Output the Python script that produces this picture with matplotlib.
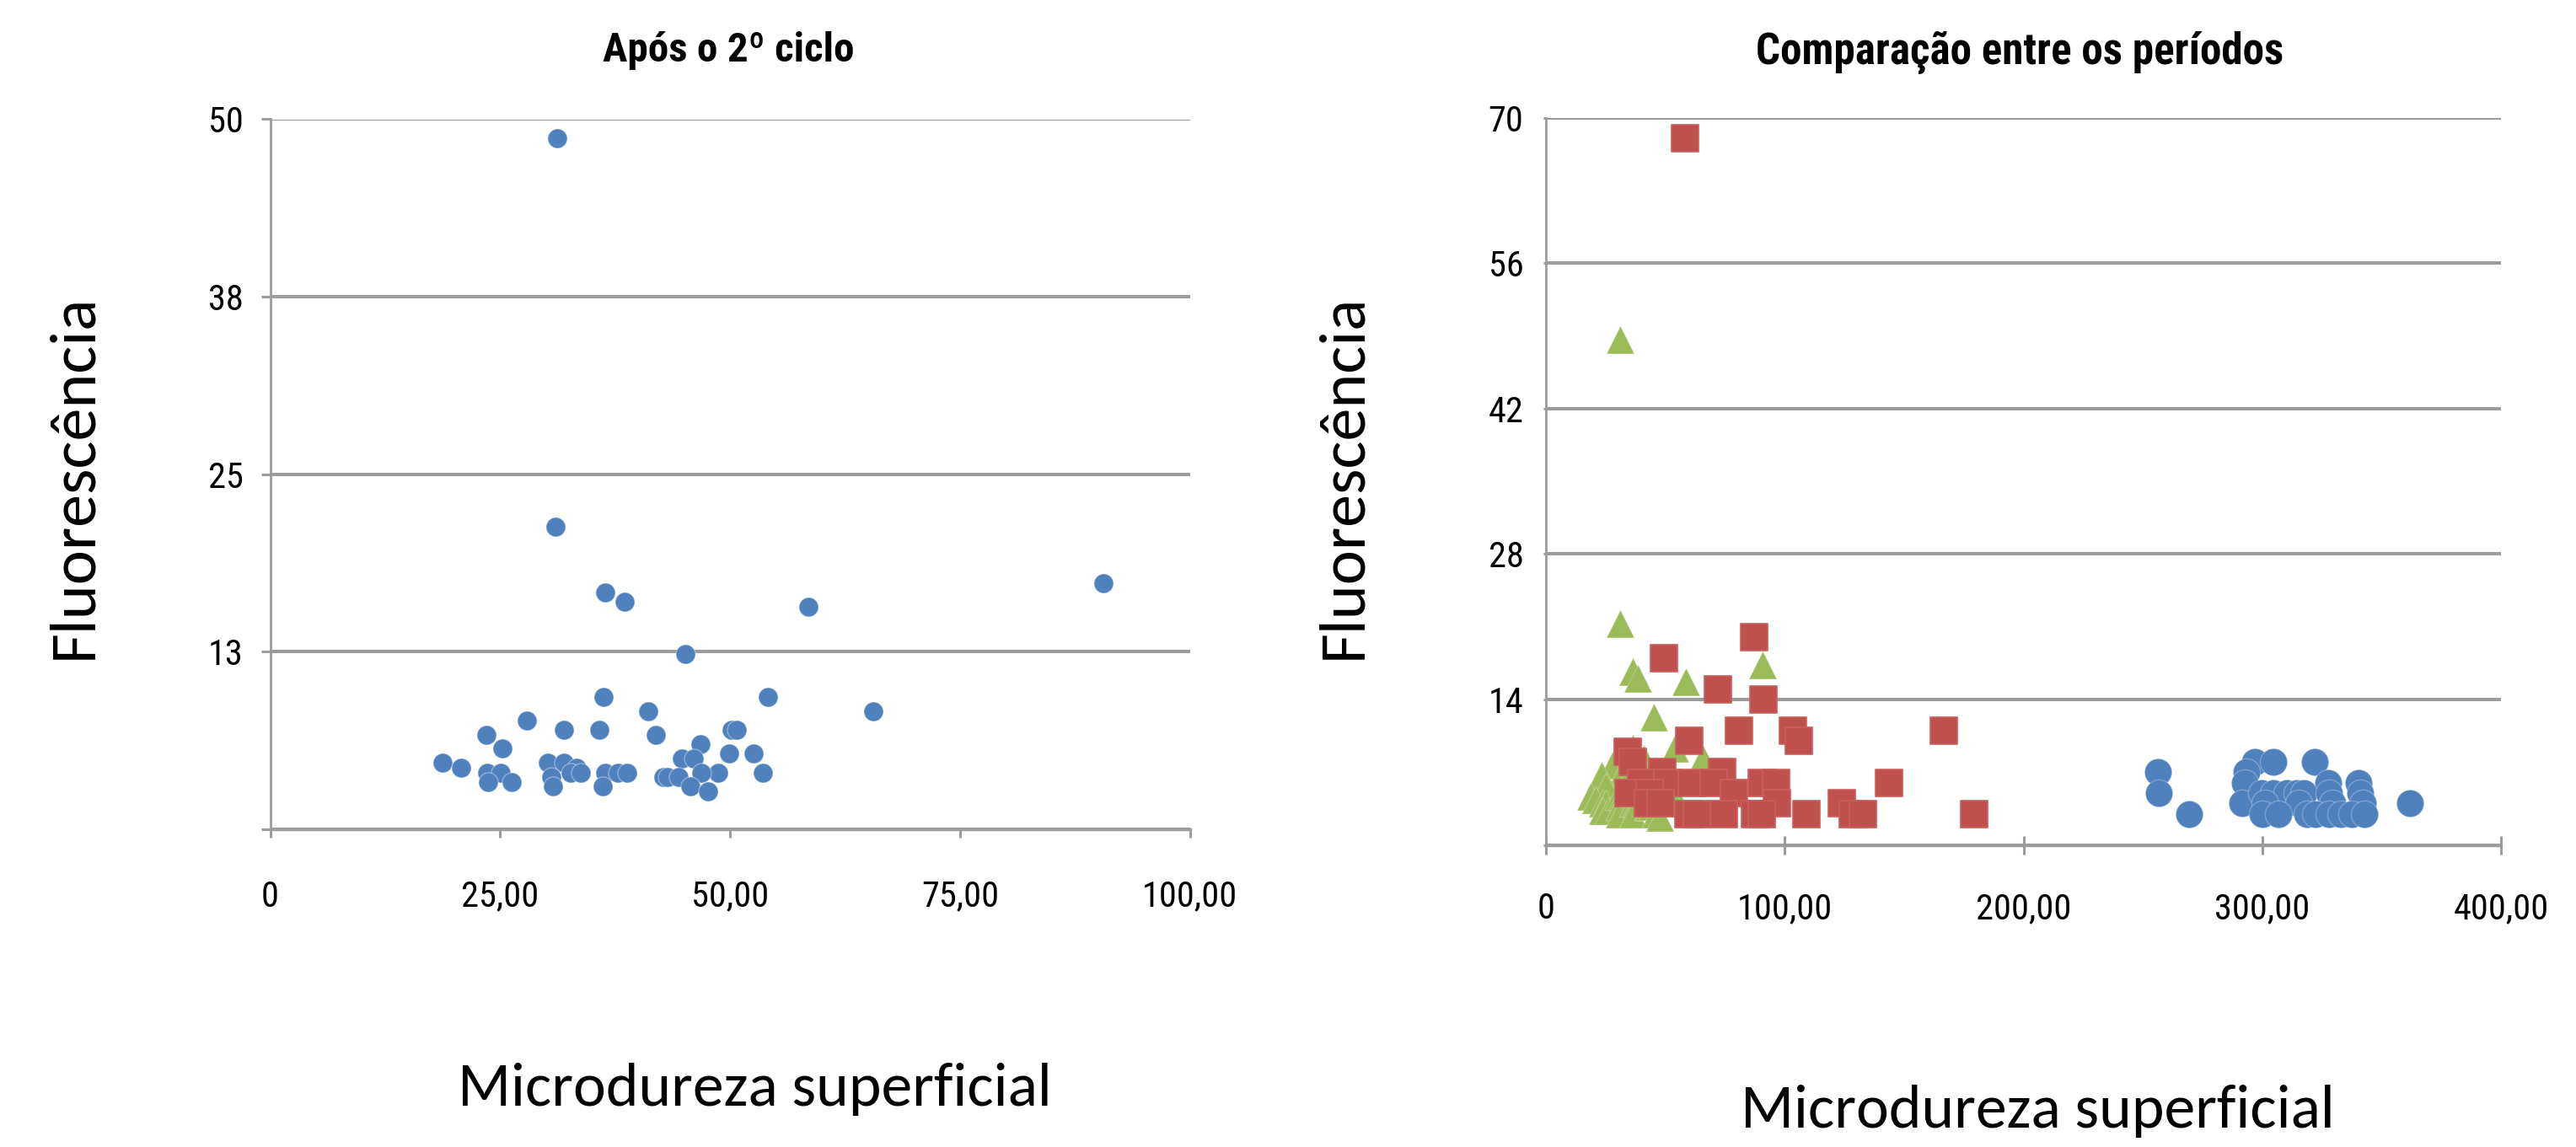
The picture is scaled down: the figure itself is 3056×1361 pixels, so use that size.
import matplotlib
matplotlib.use("Agg")
import matplotlib.pyplot as plt
from matplotlib import font_manager as fm

# ---------------- data ----------------
# After the 2nd cycle (left chart; also the green triangles of the right chart)
after2_x = [31.2, 31.05, 90.6,
            36.45, 38.53, 36.24, 41.07, 27.9, 31.96, 35.78, 23.47, 41.95, 25.21,
            18.71, 20.72, 23.62, 25.09, 23.68, 26.22, 30.19, 31.93, 33.31, 32.64,
            33.77, 30.56, 30.71, 36.45, 37.77, 38.81, 36.18,
            45.1, 58.54, 54.14, 65.6, 50.17, 50.72, 46.81, 44.74, 46.08, 49.87,
            52.58, 53.57, 48.68, 46.85, 42.72, 43.18, 44.43, 45.71, 47.61]
after2_y = [48.67, 21.33, 17.33,
            16.67, 16.0, 9.33, 8.33, 7.67, 7.0, 7.0, 6.67, 6.67, 5.67,
            4.67, 4.33, 4.0, 4.0, 3.33, 3.33, 4.67, 4.67, 4.33, 4.0,
            4.0, 3.67, 3.0, 4.0, 4.0, 4.0, 3.0,
            12.33, 15.67, 9.33, 8.33, 7.0, 7.0, 6.0, 5.0, 5.0, 5.33,
            5.33, 4.0, 4.0, 4.0, 3.67, 3.67, 3.67, 3.0, 2.67]

# Intermediate period (red squares)
mid_x = [58.2, 87.1, 49.5, 71.9, 91.2, 80.7, 60.0, 103.5, 105.9, 34.1, 36.2,
         48.6, 73.9, 39.8, 51.0, 61.0, 70.4, 90.4, 96.2, 34.5, 43.3, 78.6,
         96.8, 42.7, 48.0, 59.8, 63.3, 74.5, 87.4, 90.4, 109.2, 123.9, 128.5,
         132.7, 143.6, 166.6, 179.3]
mid_y = [68, 20, 18, 15, 14, 11, 10, 11, 10, 9, 8,
         7, 7, 6, 6, 6, 6, 6, 6, 5, 5, 5,
         4, 4, 4, 3, 3, 3, 3, 3, 3, 4, 3,
         3, 6, 11, 3]

# Initial period (blue circles)
init_x = [256.3, 256.7, 269.2, 296.9, 304.5, 321.8, 293.3, 292.7, 327.5, 340.4,
          291.6, 361.8, 299.8, 304.5, 310.4, 314.5, 317.4, 328.0, 341.0, 301.0,
          315.1, 329.2, 342.1, 300.0, 306.6, 318.6, 322.2, 328.0, 332.7, 337.4,
          342.7]
init_y = [7, 5, 3, 8, 8, 8, 7, 6, 6, 6,
          4, 4, 5, 5, 5, 5, 5, 5, 5, 4,
          4, 4, 4, 3, 3, 3, 3, 3, 3, 3,
          3]

left_xticks = [0, 25, 50, 75, 100]
left_xlabels = ["0", "25,00", "50,00", "75,00", "100,00"]
left_yticks = [0, 12.5, 25, 37.5, 50]
left_ylabels = ["", "13", "25", "38", "50"]

right_xticks = [0, 100, 200, 300, 400]
right_xlabels = ["0", "100,00", "200,00", "300,00", "400,00"]
right_yticks = [0, 14, 28, 42, 56, 70]
right_ylabels = ["", "14", "28", "42", "56", "70"]

title_left = "Após o 2º ciclo"
title_right = "Comparação entre os períodos"
xlabel_text = "Microdureza superficial"
ylabel_text = "Fluorescência"

# ---------------- fonts ----------------
avail = {f.name for f in fm.fontManager.ttflist}
def pick(cands):
    for c in cands:
        if c in avail:
            return c
    return None

NARROW = pick(["Liberation Sans Narrow", "Arial Narrow", "Roboto Condensed",
               "Noto Sans Condensed", "Open Sans Condensed", "DejaVu Sans Condensed"])
if NARROW is None:
    extra = sorted(n for n in avail if ("Narrow" in n or "Condensed" in n)
                   and "Sans" in n and "Extra" not in n and "Ultra" not in n
                   and "Semi" not in n and "Mono" not in n)
    NARROW = extra[0] if extra else None
if NARROW is None:
    NARROW = "Liberation Sans"
    HFIX = 1.1        # regular width font: allow a bit more width to keep height
else:
    HFIX = 1.0
BIG = pick(["Carlito", "Calibri", "Lato", "Open Sans"]) or "DejaVu Sans"

BLUE = "#4F81BD"
RED = "#C0504D"
GREEN = "#9BBB59"
GRID = "#9C9C9C"

W, H = 3056, 1361
fig = plt.figure(figsize=(W / 100, H / 100), dpi=100)

def box(x0, y0, x1, y1):
    return [x0 / W, 1 - y1 / H, (x1 - x0) / W, (y1 - y0) / H]

axL = fig.add_axes(box(320.6, 141.5, 1411.6, 984))
axR = fig.add_axes(box(1834, 139.6, 2967.3, 1002.7))

def style(ax, xt, xl, yt, yl, xmax, ymax, xdir, xlen, ylen, xpad, ypad):
    ax.set_xlim(0, xmax)
    ax.set_ylim(0, ymax)
    for s in ["top", "right"]:
        ax.spines[s].set_visible(False)
    ax.spines["left"].set_color(GRID)
    ax.spines["left"].set_linewidth(2.0)
    ax.spines["bottom"].set_color(GRID)
    ax.spines["bottom"].set_linewidth(2.5)
    ax.set_xticks(xt)
    ax.set_xticklabels(xl)
    ax.set_yticks(yt)
    ax.set_yticklabels(yl)
    ax.yaxis.grid(True, color=GRID, linewidth=2.9)
    ax.set_axisbelow(True)
    ax.tick_params(axis="x", direction=xdir, length=xlen, width=2.2, color=GRID,
                   pad=xpad, labelsize=30, labelcolor="black")
    ax.tick_params(axis="y", direction="out", length=ylen, width=2.2, color=GRID,
                   pad=ypad, labelsize=30, labelcolor="black")
    for lab in ax.get_xticklabels() + ax.get_yticklabels():
        lab.set_fontfamily(NARROW)

style(axL, left_xticks, left_xlabels, left_yticks, left_ylabels, 100, 50,
      "out", 7, 8, 36, 15)
style(axR, right_xticks, right_xlabels, right_yticks, right_ylabels, 400, 70,
      "inout", 16, 2, 32, 17)

axL.scatter(after2_x, after2_y, s=275, marker="o", color=BLUE,
            edgecolors=(1, 1, 1, 0.35), linewidths=1, zorder=3, clip_on=False)

axR.scatter(init_x, init_y, s=540, marker="o", color=BLUE,
            edgecolors=(1, 1, 1, 0.25), linewidths=1, zorder=3, clip_on=False)
axR.scatter(after2_x, after2_y, s=560, marker="^", color=GREEN,
            edgecolors=(1, 1, 1, 0.2), linewidths=1, zorder=4, clip_on=False)
axR.scatter(mid_x, mid_y, s=520, marker="s", color=RED,
            edgecolors="#C95F5C", linewidths=1.2, zorder=5, clip_on=False)

tL = fig.text(864 / W, 1 - 60 / H, title_left, ha="center", va="center",
              fontsize=30, fontweight="bold", family=NARROW)
tR = fig.text(2396 / W, 1 - 62 / H, title_right, ha="center", va="center",
              fontsize=30, fontweight="bold", family=NARROW)
yL = fig.text(88 / W, 1 - 565 / H, ylabel_text, rotation=90, ha="center",
              va="center", fontsize=50, family=BIG)
yR = fig.text(1594 / W, 1 - 565 / H, ylabel_text, rotation=90, ha="center",
              va="center", fontsize=50, family=BIG)
xL = fig.text(895 / W, 1 - 1292 / H, xlabel_text, ha="center", va="center",
              fontsize=50, family=BIG)
xR = fig.text(2417 / W, 1 - 1319 / H, xlabel_text, ha="center", va="center",
              fontsize=50, family=BIG)

# scale text sizes to the measured widths of the reference
fig.canvas.draw()
r = fig.canvas.get_renderer()
def fit(t, target, use_h=False):
    bb = t.get_window_extent(r)
    cur = bb.height if use_h else bb.width
    t.set_fontsize(t.get_fontsize() * target / cur)

fit(tL, 298 * HFIX)
fit(tR, 626 * HFIX)
fit(yL, 433, True)
fit(yR, 433, True)
fit(xL, 705)
fit(xR, 705)

lab = axL.get_xticklabels()[-1]
scale = 113 * HFIX / lab.get_window_extent(r).width
for ax in (axL, axR):
    ax.tick_params(labelsize=30 * scale)

fig.savefig("out.png", dpi=100)
